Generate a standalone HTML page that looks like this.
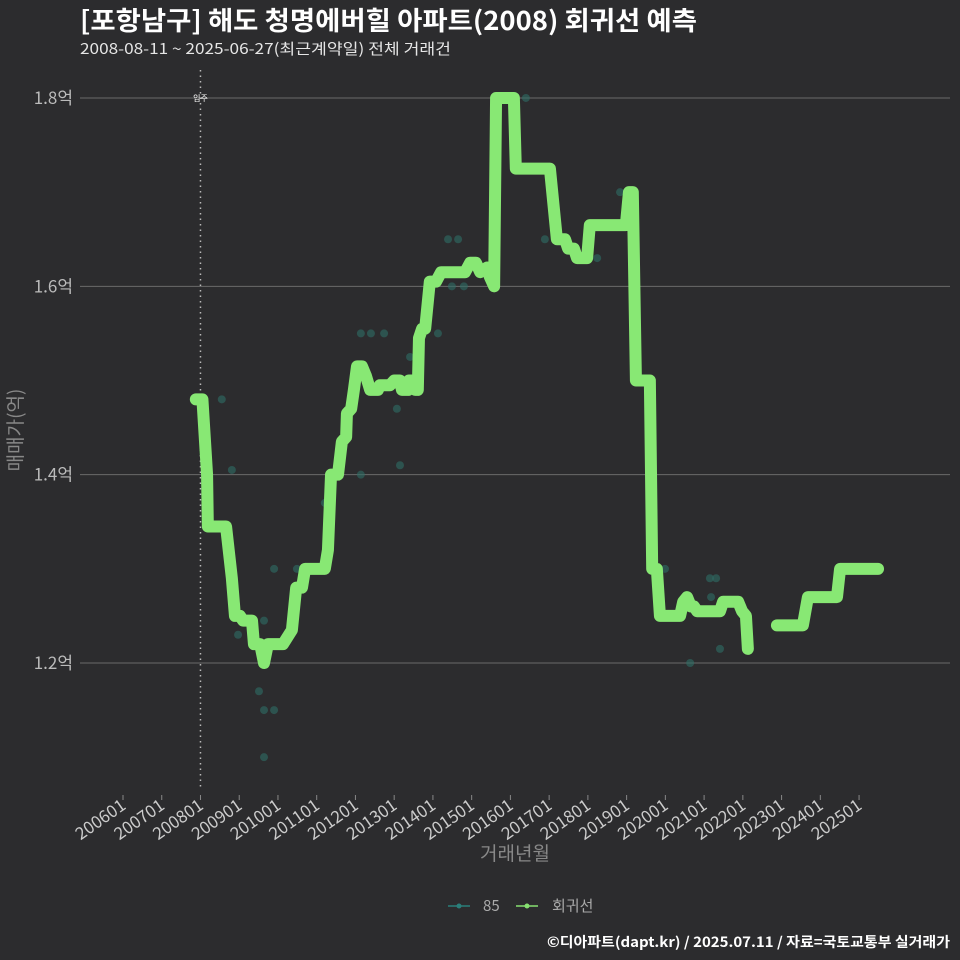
<!DOCTYPE html>
<html><head><meta charset="utf-8"><style>
body{margin:0;background:#2c2c2e;width:960px;height:960px;overflow:hidden}
svg{display:block}
text{font-family:"Noto Sans CJK KR","Liberation Sans",sans-serif}
</style></head><body>
<svg id="c" width="960" height="960" viewBox="0 0 960 960">
<rect width="960" height="960" fill="#2c2c2e"/>
<text x="80" y="30" font-size="26" font-weight="bold" fill="#fff" textLength="617" lengthAdjust="spacingAndGlyphs">[포항남구] 해도 청명에버힐 아파트(2008) 회귀선 예측</text>
<text x="80" y="54" font-size="15" fill="#e6e6e6" textLength="371" lengthAdjust="spacingAndGlyphs">2008-08-11 ~ 2025-06-27(최근계약일) 전체 거래건</text>
<g id="grid"></g><g id="pts"></g><g id="line"></g><g id="axes"></g>
<text transform="translate(22,430) rotate(-90)" text-anchor="middle" font-size="19" fill="#888">매매가(억)</text>
<text x="515" y="860" text-anchor="middle" font-size="19" fill="#888">거래년월</text>
<g>
<g><line x1="448" y1="906" x2="470" y2="906" stroke="#2a7f7a" stroke-width="1.5"/><circle cx="459" cy="906" r="2.5" fill="#2a7f7a"/><text x="483" y="911" font-size="15" fill="#aaa">85</text></g>
<g><line x1="516" y1="906" x2="538" y2="906" stroke="#86e070" stroke-width="1.5"/><circle cx="527" cy="906" r="2.5" fill="#86e070"/><text x="552" y="911" font-size="15" fill="#aaa">회귀선</text></g>
</g>
<text x="950" y="947" text-anchor="end" font-size="14" font-weight="bold" fill="#fff" textLength="403" lengthAdjust="spacingAndGlyphs">©디아파트(dapt.kr) / 2025.07.11 / 자료=국토교통부 실거래가</text>
</svg>
<script>
const yTicks=[1.2,1.4,1.6,1.8];
const xTickYears=[2006,2007,2008,2009,2010,2011,2012,2013,2014,2015,2016,2017,2018,2019,2020,2021,2022,2023,2024,2025];
const lineT1=[2007.88,2008.05,2008.17,2008.19,2008.66,2008.81,2008.89,2009.02,2009.10,2009.33,2009.38,2009.54,2009.64,2009.74,2010.13,2010.36,2010.47,2010.62,2010.70,2011.21,2011.29,2011.37,2011.55,2011.65,2011.76,2011.78,2011.89,2011.96,2012.04,2012.17,2012.27,2012.38,2012.58,2012.63,2012.89,2013.00,2013.15,2013.20,2013.36,2013.38,2013.49,2013.54,2013.61,2013.64,2013.72,2013.80,2013.92,2014.08,2014.21,2014.83,2014.96,2015.11,2015.22,2015.40,2015.47,2015.58,2015.63,2016.09,2016.14,2017.02,2017.20,2017.41,2017.49,2017.64,2017.72,2017.98,2018.05,2018.98,2019.06,2019.16,2019.24,2019.60,2019.66,2019.78,2019.86,2020.38,2020.46,2020.56,2020.66,2020.74,2020.82,2021.41,2021.49,2021.88,2021.98,2022.08,2022.13];
const lineV1=[1.48,1.48,1.40,1.345,1.345,1.29,1.25,1.25,1.245,1.245,1.22,1.22,1.20,1.22,1.22,1.235,1.28,1.28,1.30,1.30,1.32,1.40,1.40,1.435,1.44,1.465,1.47,1.49,1.515,1.515,1.505,1.49,1.49,1.495,1.495,1.50,1.50,1.49,1.49,1.50,1.50,1.49,1.49,1.545,1.555,1.555,1.605,1.605,1.615,1.615,1.625,1.625,1.615,1.62,1.61,1.60,1.80,1.80,1.725,1.725,1.65,1.65,1.64,1.64,1.63,1.63,1.665,1.665,1.70,1.70,1.50,1.50,1.30,1.30,1.25,1.25,1.265,1.27,1.26,1.26,1.255,1.255,1.265,1.265,1.255,1.25,1.215];
const lineT2=[2022.88,2023.55,2023.68,2024.43,2024.51,2025.49];
const lineV2=[1.24,1.24,1.27,1.27,1.30,1.30];
const ptT=[2008.55,2008.81,2008.97,2009.64,2009.51,2009.64,2009.90,2009.64,2009.90,2010.49,2011.21,2012.14,2012.14,2012.40,2012.74,2013.07,2013.15,2013.41,2014.13,2014.39,2014.65,2014.49,2014.80,2016.40,2016.89,2018.24,2018.83,2019.99,2020.64,2021.15,2021.31,2021.18,2021.41];
const ptV=[1.48,1.405,1.23,1.245,1.17,1.15,1.15,1.10,1.30,1.30,1.37,1.40,1.55,1.55,1.55,1.47,1.41,1.525,1.55,1.65,1.65,1.60,1.60,1.80,1.65,1.63,1.70,1.30,1.20,1.29,1.29,1.27,1.215];
const NS='http://www.w3.org/2000/svg';
const X=t=>123+(t-2006)*38.74, Y=v=>663-(v-1.2)*941.7;
function mk(tag,a,p){const e=document.createElementNS(NS,tag);for(const k in a)e.setAttribute(k,a[k]);document.getElementById(p).appendChild(e);return e;}
yTicks.forEach(v=>{
 const l=mk('line',{x1:80,x2:950,y1:Y(v),y2:Y(v),stroke:'#6a6a6a','stroke-width':1},'grid');
 
 
 const t=mk('text',{x:73,y:Y(v)+6,'text-anchor':'end','font-size':17,fill:'#bbb'},'axes');t.textContent=v.toFixed(1)+'억';
 
 
});
const vl=mk('line',{x1:X(2008),x2:X(2008),y1:70,y2:790,stroke:'#bbb','stroke-width':1.5,'stroke-dasharray':'1.5 4'},'grid');


const vt=mk('text',{x:X(2008),y:101,'text-anchor':'middle','font-size':8,fill:'#fff'},'grid');vt.textContent='입주';


xTickYears.forEach(y=>{
 const x=X(y);
 const tk=mk('line',{x1:x,x2:x,y1:795,y2:800,stroke:'#888'},'axes');
 
 
 const t=mk('text',{x:x+4,y:808,'text-anchor':'end','font-size':17,fill:'#ccc',transform:`rotate(-35 ${x+4} 808)`},'axes');t.textContent=y+'01';
 
 
});
ptT.forEach((t,i)=>{
 const c=mk('circle',{cx:X(t),cy:Y(ptV[i]),r:4,fill:'#2f6e66','fill-opacity':0.6},'pts');
 
 
});
[[lineT1,lineV1],[lineT2,lineV2]].forEach(([T,V])=>{
 const p=mk('polyline',{points:T.map((t,i)=>X(t)+','+Y(V[i])).join(' '),fill:'none',stroke:'#88e874','stroke-width':12,'stroke-linejoin':'round','stroke-linecap':'round'},'line');
 
 
});
</script>
</body></html>
